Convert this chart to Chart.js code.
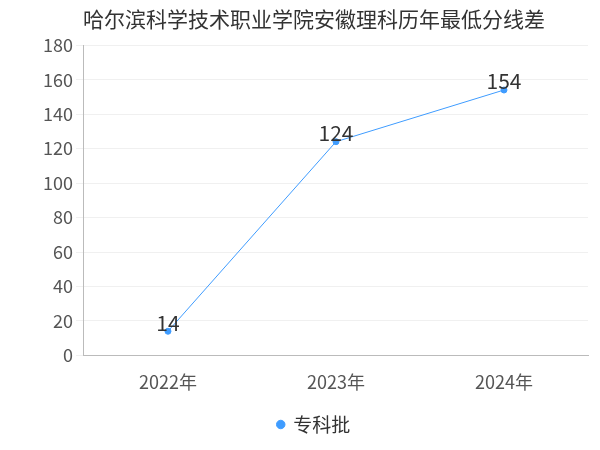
<!DOCTYPE html>
<html><head><meta charset="utf-8">
<script src="https://cdn.jsdelivr.net/npm/chart.js@4"></script>
<style>body{margin:0;background:#fff}</style>
</head><body>
<canvas id="myChart" width="600" height="450" style="width:600px;height:450px"></canvas>
<script>
const years = ['2022年', '2023年', '2024年'];
const scores = [14, 124, 154];
const seriesName = '专科批';
const titleText = '哈尔滨科学技术职业学院安徽理科历年最低分线差';

// draw the value above each point
const valueLabels = {
  id: 'valueLabels',
  afterDatasetsDraw(chart) {
    const ctx = chart.ctx;
    const meta = chart.getDatasetMeta(0);
    ctx.save();
    ctx.font = '21px "Noto Sans CJK SC", sans-serif';
    ctx.fillStyle = '#333';
    ctx.textAlign = 'center';
    ctx.textBaseline = 'bottom';
    meta.data.forEach((p, i) => {
      ctx.fillText(scores[i], p.x, p.y + 2);
    });
    ctx.restore();
  }
};

var ctx = document.getElementById('myChart').getContext('2d');
var chart = new Chart(ctx, {
  type: 'line',
  data: {
    labels: years,
    datasets: [{
      label: seriesName,
      data: scores,
      borderColor: '#3f9cff',
      backgroundColor: '#3f9cff',
      borderWidth: 1,
      pointRadius: 3,
      tension: 0
    }]
  },
  options: {
    responsive: false,
    devicePixelRatio: 1,
    animation: false,
    layout: { padding: { left: 40, right: 12, top: 0, bottom: 6 } },
    plugins: {
      title: {
        display: true,
        text: titleText,
        color: '#333',
        font: { size: 21, family: '"Noto Sans CJK SC", sans-serif', weight: 'normal' },
        padding: { top: 6, bottom: 14 }
      },
      legend: {
        position: 'bottom',
        labels: {
          usePointStyle: true,
          pointStyle: 'circle',
          boxWidth: 6,
          boxHeight: 6,
          color: '#333',
          font: { size: 19, family: '"Noto Sans CJK SC", sans-serif' },
          padding: 14
        }
      },
      tooltip: { enabled: false }
    },
    scales: {
      x: {
        offset: true,
        grid: { display: false },
        border: { color: '#bbb' },
        ticks: { color: '#555', padding: 8, font: { size: 18, family: '"Noto Sans CJK SC", sans-serif' } }
      },
      y: {
        min: 0,
        max: 180,
        ticks: { stepSize: 20, autoSkip: false, color: '#555', font: { size: 18, family: '"Noto Sans CJK SC", sans-serif' } },
        grid: { color: '#f0f0f0' },
        border: { color: '#bbb' }
      }
    }
  },
  plugins: [valueLabels]
});
</script>
</body></html>
